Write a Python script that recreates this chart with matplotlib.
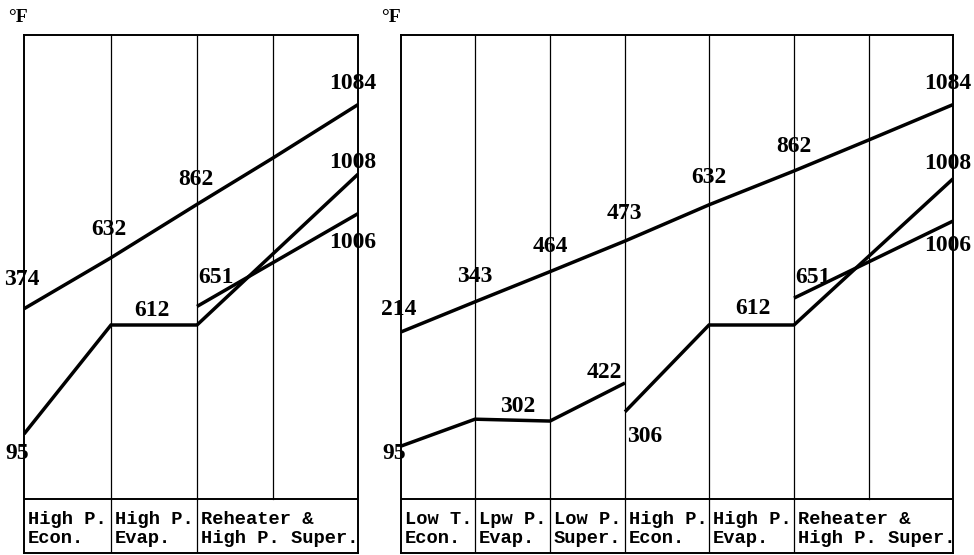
import matplotlib
matplotlib.use("Agg")
import matplotlib.pyplot as plt
import numpy as np

# ── Data ──────────────────────────────────────────────────────────────────────
# Schematic diagram: heights are read off the picture (0 = bottom of the plot
# area, 100 = top frame), stations are the column boundaries (0 = left edge).

# Left panel: single pressure boiler
LEFT_GAS_ST = [0, 1, 2, 3, 4]
LEFT_GAS_H = [41, 52, 63.5, 73.5, 85]
LEFT_WATER_ST = [0, 1, 2, 4]
LEFT_WATER_H = [14, 37.5, 37.5, 70]
LEFT_REHEAT_ST = [2, 4]
LEFT_REHEAT_H = [41.5, 61.5]

LEFT_LABELS = ["374", "632", "862", "1084", "95", "612", "1008", "651", "1006"]
LEFT_LABEL_LINE = ["gas", "gas", "gas", "gas", "water", "water", "water", "reheat", "reheat"]
LEFT_LABEL_ST = [0, 1, 2, 4, 0, 1.5, 4, 2, 4]

LEFT_SECTIONS = ["High P.\nEcon.", "High P.\nEvap.", "Reheater &\nHigh P. Super."]
LEFT_SECTION_COLS = [1, 1, 2]

# Right panel: dual pressure boiler
RIGHT_GAS_ST = [0, 1, 2, 3, 4, 5, 6, 7]
RIGHT_GAS_H = [36, 42.5, 49, 55.6, 63.4, 70.7, 77.4, 85]
RIGHT_LP_ST = [0, 1, 2, 3]
RIGHT_LP_H = [11.4, 17.2, 16.8, 25]
RIGHT_HP_ST = [3, 4, 5, 7]
RIGHT_HP_H = [18.8, 37.5, 37.5, 69]
RIGHT_REHEAT_ST = [5, 7]
RIGHT_REHEAT_H = [43.3, 59.9]

RIGHT_LABELS = ["214", "343", "464", "473", "632", "862", "1084",
                "95", "302", "422", "306", "612", "1008", "651", "1006"]
RIGHT_LABEL_LINE = ["gas"] * 7 + ["lp", "lp", "lp", "hp", "hp", "hp", "reheat", "reheat"]
RIGHT_LABEL_ST = [0, 1, 2, 3, 4, 5, 7, 0, 1.5, 3, 3, 4.5, 7, 5, 7]

RIGHT_SECTIONS = ["Low T.\nEcon.", "Lpw P.\nEvap.", "Low P.\nSuper.", "High P.\nEcon.",
                  "High P.\nEvap.", "Reheater &\nHigh P. Super."]
RIGHT_SECTION_COLS = [1, 1, 1, 1, 1, 2]

# ── Layout (pixels of the 974x555 canvas) ─────────────────────────────────────
W, H = 974, 555
TOP, PLOT_BOT, BOX_BOT = 35, 499, 553
PX_PER_UNIT = (PLOT_BOT - TOP) / 100.0
BOX_H = (BOX_BOT - PLOT_BOT) / PX_PER_UNIT

LEFT_X0, LEFT_COL_W = 24, [87, 86, 76, 85]
RIGHT_X0, RIGHT_COL_W = 401, [74, 75, 75, 84, 85, 75, 84]

# label offsets in pixels (dx, dy up)
LEFT_OFFS = [(-2, 29), (-2, 28), (-1, 25), (-5, 21), (-7, -19), (-2, 15),
             (-5, 12), (19, 29), (-5, -29)]
RIGHT_OFFS = [(-2, 22), (0, 25), (0, 25), (-1, 28), (0, 27), (0, 24), (-5, 21),
              (-7, -7), (5, 14), (-21, 10), (20, -25), (1, 16), (-5, 15), (19, 21), (-5, -24)]

NUM_FONT = dict(family="Liberation Serif", fontweight="bold", fontsize=17)
BOX_FONT = dict(family="Liberation Mono", fontweight="bold", fontsize=13.5)
LINE_KW = dict(color="black", lw=2.5, solid_capstyle="butt", solid_joinstyle="miter")

fig = plt.figure(figsize=(W / 100, H / 100), dpi=100)


def draw_panel(x0, col_w, lines, labels, label_line, label_st, offs, sections, section_cols):
    edges = np.concatenate([[0], np.cumsum(col_w)])
    ax = fig.add_axes([x0 / W, (H - BOX_BOT) / H, edges[-1] / W, (BOX_BOT - TOP) / H])
    ax.set_xlim(0, edges[-1])
    ax.set_ylim(-BOX_H, 100)
    ax.set_xticks([])
    ax.set_yticks([])
    for sp in ax.spines.values():
        sp.set_linewidth(1.4)

    def sx(st):
        return np.interp(st, np.arange(len(edges)), edges)

    # column grid in the plot area
    for e in edges[1:-1]:
        ax.plot([e, e], [0, 100], color="black", lw=0.9)
    ax.axhline(0, color="black", lw=1.4)

    # temperature lines
    for name, (st, hh) in lines.items():
        ax.plot(sx(np.array(st)), hh, **LINE_KW)

    # temperature labels
    for txt, ln, st, (dx, dy) in zip(labels, label_line, label_st, offs):
        lst, lh = lines[ln]
        y = np.interp(st, lst, lh)
        ax.annotate(txt, (sx(st), y), xytext=(dx, dy), textcoords="offset pixels",
                    ha="center", va="center", **NUM_FONT)

    # section boxes
    col = 0
    for i, (txt, n) in enumerate(zip(sections, section_cols)):
        if i > 0:
            ax.plot([edges[col], edges[col]], [-BOX_H, 0], color="black", lw=0.9)
        ax.text(edges[col] + 4, -BOX_H / 2 - 0.6, txt, ha="left", va="center",
                linespacing=1.12, **BOX_FONT)
        col += n
    return ax


draw_panel(LEFT_X0, LEFT_COL_W,
           {"gas": (LEFT_GAS_ST, LEFT_GAS_H),
            "water": (LEFT_WATER_ST, LEFT_WATER_H),
            "reheat": (LEFT_REHEAT_ST, LEFT_REHEAT_H)},
           LEFT_LABELS, LEFT_LABEL_LINE, LEFT_LABEL_ST, LEFT_OFFS,
           LEFT_SECTIONS, LEFT_SECTION_COLS)

draw_panel(RIGHT_X0, RIGHT_COL_W,
           {"gas": (RIGHT_GAS_ST, RIGHT_GAS_H),
            "lp": (RIGHT_LP_ST, RIGHT_LP_H),
            "hp": (RIGHT_HP_ST, RIGHT_HP_H),
            "reheat": (RIGHT_REHEAT_ST, RIGHT_REHEAT_H)},
           RIGHT_LABELS, RIGHT_LABEL_LINE, RIGHT_LABEL_ST, RIGHT_OFFS,
           RIGHT_SECTIONS, RIGHT_SECTION_COLS)

# unit marks
for px in (18, 391):
    fig.text(px / W, 1 - 18 / H, "°F", ha="center", va="center",
             family="Liberation Serif", fontweight="bold", fontsize=14)

fig.savefig("out.png", dpi=100)
